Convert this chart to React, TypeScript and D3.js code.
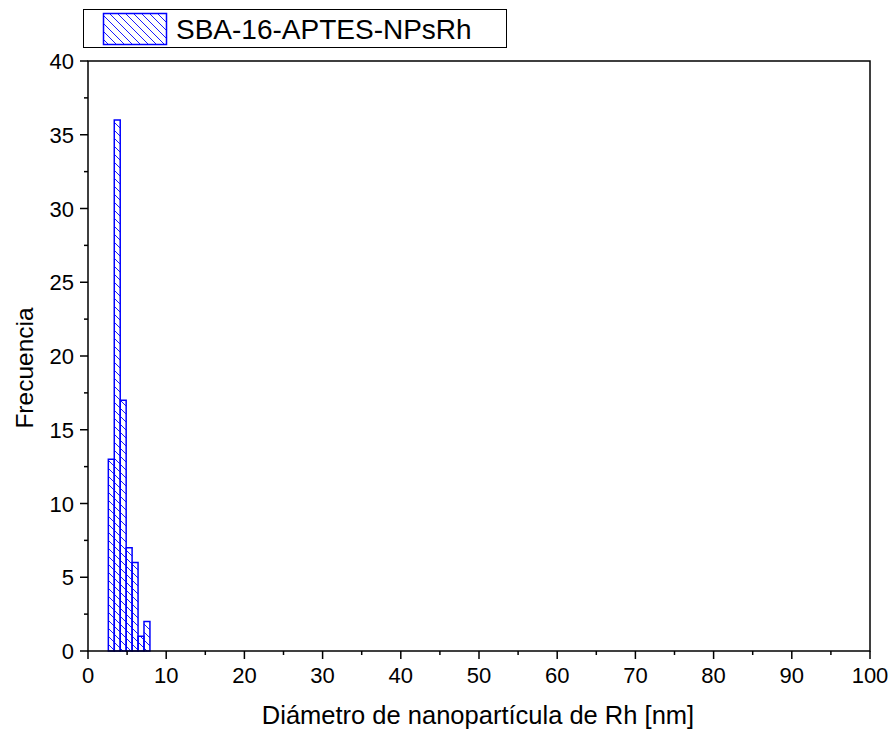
import React from 'react';
import * as d3 from 'd3';

const binStarts = [2.6, 3.36, 4.12, 4.88, 5.64, 6.4, 7.16];
const binWidth = 0.76;
const counts = [13, 36, 17, 7, 6, 1, 2];
const xTicks = [0, 10, 20, 30, 40, 50, 60, 70, 80, 90, 100];
const yTicks = [0, 5, 10, 15, 20, 25, 30, 35, 40];
const seriesName = 'SBA-16-APTES-NPsRh';

const App = () => {
    const width = 890;
    const height = 732;
    const left = 88, right = 870, top = 61, bottom = 651;
    const font = 'Arial, "Liberation Sans", sans-serif';

    const x = d3.scaleLinear().domain([0, 100]).range([left, right]);
    const y = d3.scaleLinear().domain([0, 40]).range([bottom, top]);

    const xMinor = d3.range(5, 100, 10);
    const yMinor = d3.range(2.5, 40, 5);

    return (
        <svg width={width} height={height} style={{ position: 'absolute', left: 0, top: 0 }}>
            <defs>
                <pattern id="hatch" patternUnits="userSpaceOnUse" width="8" height="8">
                    <path d="M-2,-2 L10,10 M-2,6 L2,10 M6,-2 L10,2" stroke="#0000ff" strokeWidth="0.9" />
                </pattern>
            </defs>
            <rect width={width} height={height} fill="#fff" />

            {counts.map((c, i) => (
                <rect key={i}
                    x={x(binStarts[i])}
                    y={y(c)}
                    width={x(binStarts[i] + binWidth) - x(binStarts[i])}
                    height={y(0) - y(c)}
                    fill="url(#hatch)" stroke="#0000ff" strokeWidth={1.5} />
            ))}

            <rect x={left} y={top} width={right - left} height={bottom - top} fill="none" stroke="#000" strokeWidth={1.5} />

            {xTicks.map(t => (
                <g key={'x' + t}>
                    <line x1={x(t)} x2={x(t)} y1={bottom} y2={bottom + 8} stroke="#000" strokeWidth={1.5} />
                    <text x={x(t)} y={bottom + 32} textAnchor="middle" fontSize={22} fontFamily={font}>{t}</text>
                </g>
            ))}
            {xMinor.map(t => (
                <line key={'xm' + t} x1={x(t)} x2={x(t)} y1={bottom} y2={bottom + 4} stroke="#000" strokeWidth={1.5} />
            ))}
            {yTicks.map(t => (
                <g key={'y' + t}>
                    <line x1={left - 8} x2={left} y1={y(t)} y2={y(t)} stroke="#000" strokeWidth={1.5} />
                    <text x={left - 14} y={y(t) + 8} textAnchor="end" fontSize={22} fontFamily={font}>{t}</text>
                </g>
            ))}
            {yMinor.map(t => (
                <line key={'ym' + t} x1={left - 4} x2={left} y1={y(t)} y2={y(t)} stroke="#000" strokeWidth={1.5} />
            ))}

            <text x={478} y={724} textAnchor="middle" fontSize={25.5} fontFamily={font}>
                Diámetro de nanopartícula de Rh [nm]
            </text>
            <text transform={`translate(33, 368) rotate(-90)`} textAnchor="middle" fontSize={24.5} fontFamily={font}>
                Frecuencia
            </text>

            <rect x={83.5} y={9.5} width={423} height={38} fill="#fff" stroke="#000" strokeWidth={1} />
            <rect x={103.5} y={13.5} width={63} height={31} fill="url(#hatch)" stroke="#0000ff" strokeWidth={1.5} />
            <text x={176} y={39} fontSize={28} fontFamily={font}>{seriesName}</text>
        </svg>
    );
};

export default App;
